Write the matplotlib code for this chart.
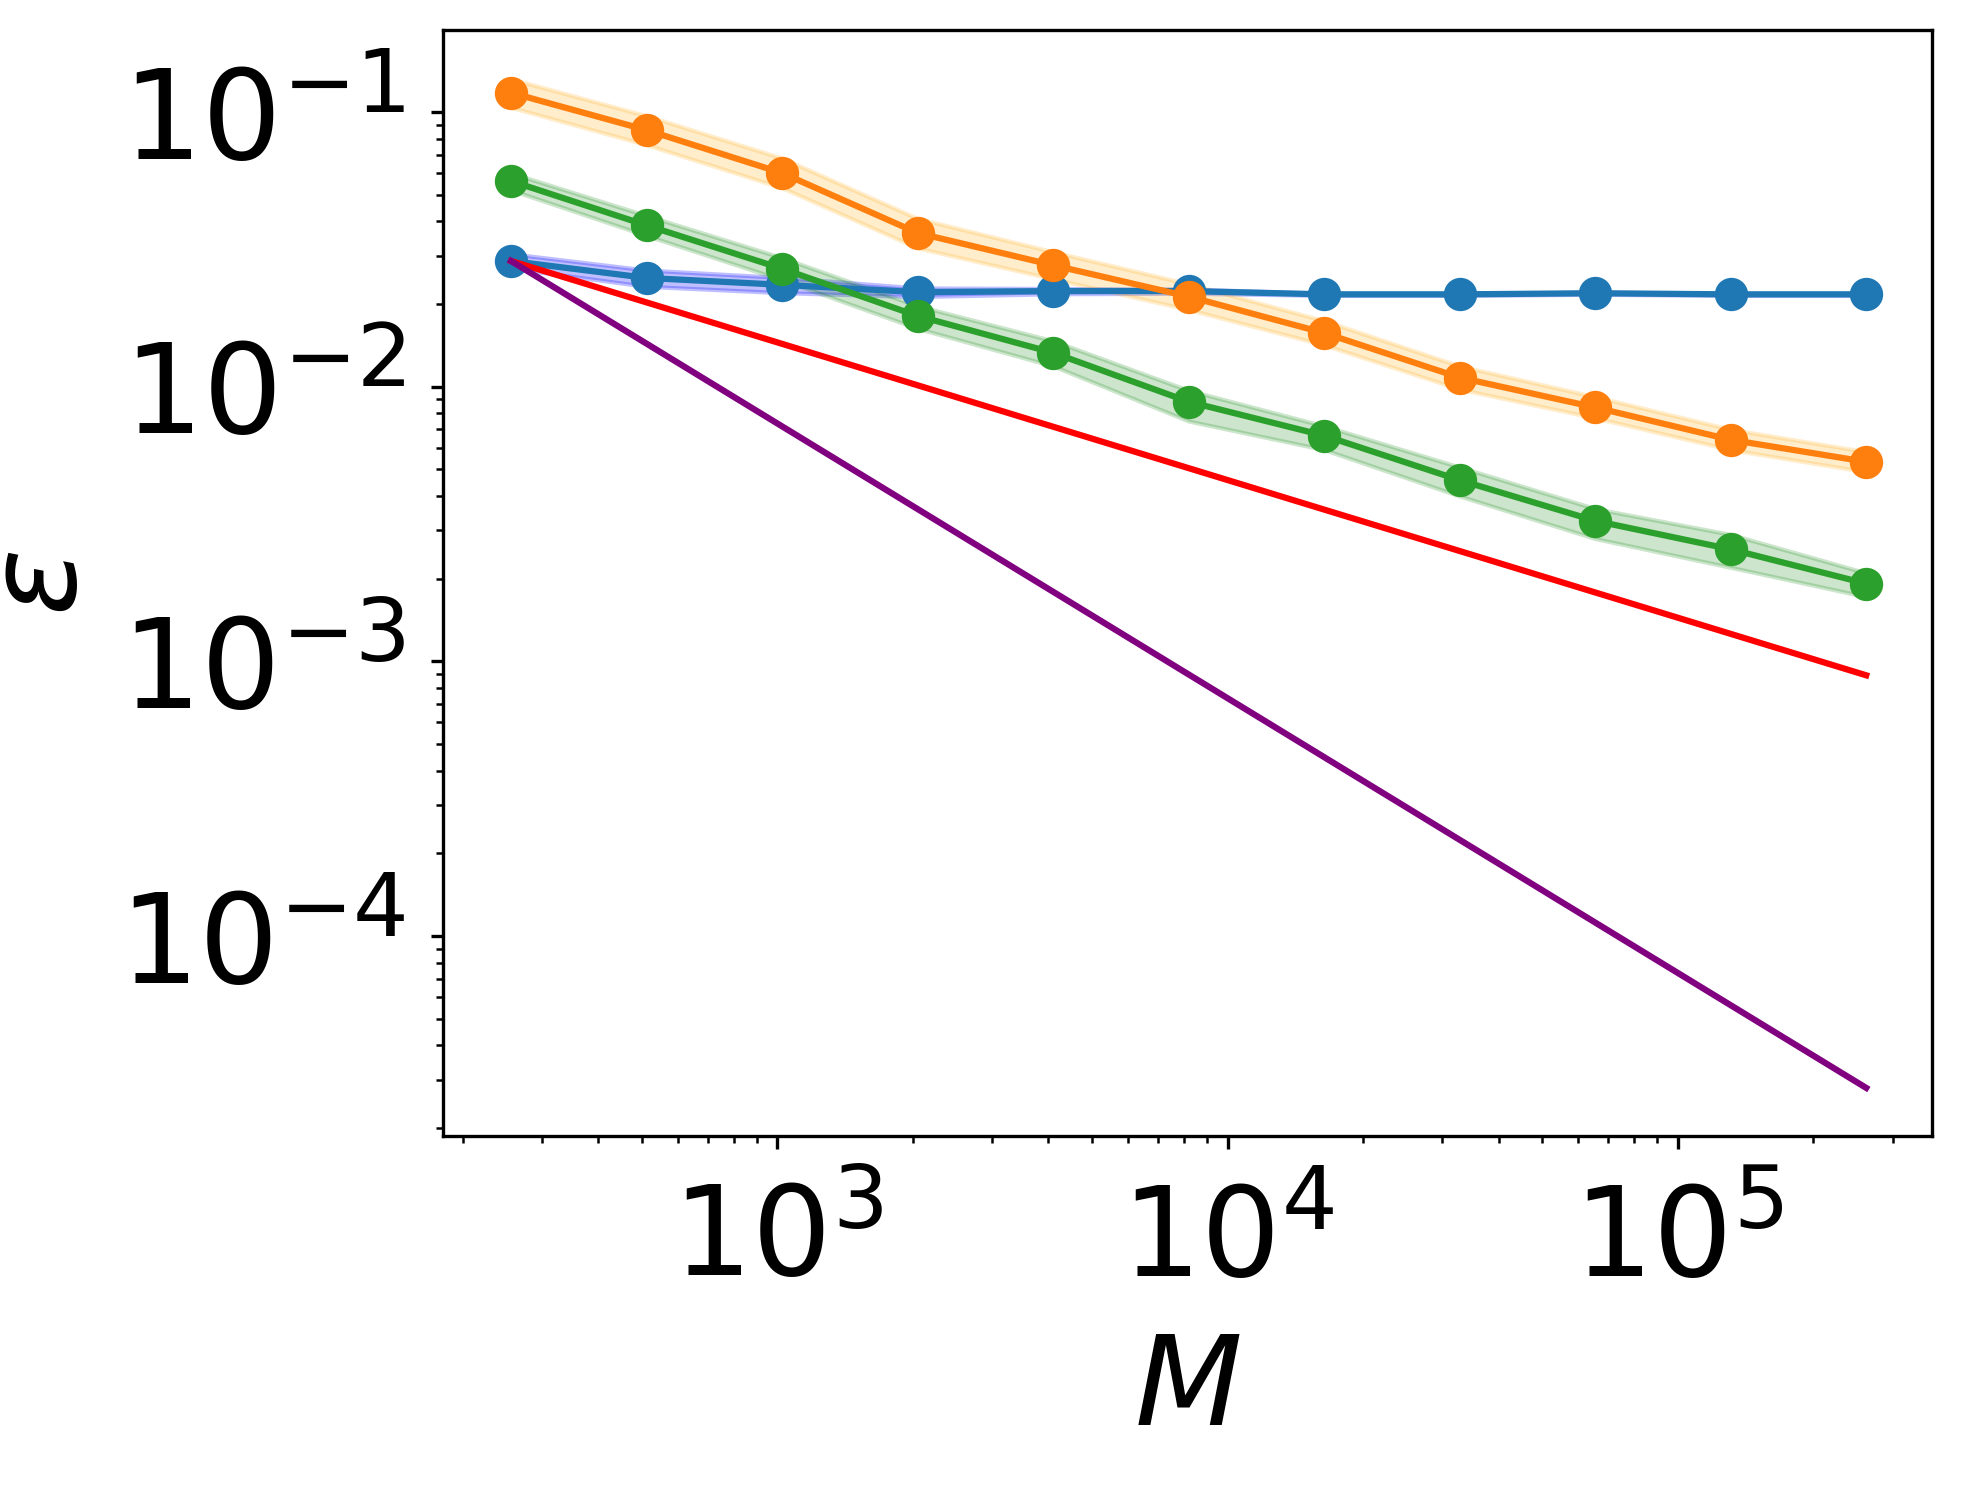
import matplotlib
matplotlib.use("Agg")
import matplotlib.pyplot as plt

M = [256, 512, 1024, 2048, 4096, 8192, 16384, 32768, 65536, 131072, 262144]

blue_vals = [0.0287, 0.0249, 0.0235, 0.0221, 0.0223, 0.0223, 0.0217, 0.0217, 0.0219, 0.0217, 0.0217]
blue_lo = [0.0270, 0.0232, 0.0220, 0.0213, 0.0218, 0.0219, 0.0215, 0.0215, 0.0217, 0.0215, 0.0215]
blue_hi = [0.0305, 0.0266, 0.0250, 0.0229, 0.0228, 0.0227, 0.0219, 0.0219, 0.0221, 0.0219, 0.0219]

orange_vals = [0.1176, 0.0860, 0.0600, 0.0363, 0.0277, 0.0213, 0.0157, 0.0108, 0.00841, 0.00641, 0.00533]
orange_lo = [0.104, 0.076, 0.053, 0.0320, 0.0247, 0.0191, 0.0142, 0.0098, 0.0077, 0.0059, 0.0049]
orange_hi = [0.132, 0.097, 0.068, 0.0410, 0.0310, 0.0237, 0.0174, 0.0119, 0.0092, 0.0070, 0.0058]

green_vals = [0.0561, 0.0387, 0.0269, 0.0181, 0.0133, 0.00882, 0.00664, 0.00457, 0.00325, 0.00256, 0.00192]
green_lo = [0.0520, 0.0355, 0.0245, 0.0163, 0.0119, 0.0075, 0.0059, 0.0040, 0.0028, 0.0022, 0.00172]
green_hi = [0.0600, 0.0420, 0.0295, 0.0197, 0.0147, 0.0097, 0.0072, 0.0051, 0.0036, 0.0029, 0.0021]

# reference slopes, endpoints only
ref_M = [256, 262144]
red_ref = [0.0287, 0.00089]
purple_ref = [0.0287, 2.8e-5]


def main() -> None:
    fig = plt.figure(figsize=(1961 / 300, 1486 / 300), dpi=300)
    ax = fig.add_axes([0.2259, 0.2355, 0.9852 - 0.2259, 0.9798 - 0.2355])

    ax.fill_between(M, blue_lo, blue_hi, color="blue", alpha=0.25, linewidth=1)
    ax.plot(M, blue_vals, "o-", color="tab:blue", lw=1.5, ms=7)

    ax.fill_between(M, orange_lo, orange_hi, color="orange", alpha=0.2, linewidth=1)
    ax.plot(M, orange_vals, "o-", color="tab:orange", lw=1.5, ms=7)

    ax.fill_between(M, green_lo, green_hi, color="green", alpha=0.2, linewidth=1)
    ax.plot(M, green_vals, "o-", color="tab:green", lw=1.5, ms=7)

    ax.plot(ref_M, red_ref, color="red", lw=1.5)
    ax.plot(ref_M, purple_ref, color="purple", lw=1.5)

    ax.set_xscale("log")
    ax.set_yscale("log")
    ax.set_xlim(180.7, 367000)
    ax.set_ylim(1.87e-5, 0.199)

    ax.tick_params(axis="both", which="major", labelsize=30, length=3, pad=6)
    ax.tick_params(axis="x", which="major", pad=8)
    ax.tick_params(axis="both", which="minor", length=1.6)
    ax.set_xlabel(r"$M$", fontsize=30, labelpad=6.5)
    ax.set_ylabel(r"$\varepsilon$", fontsize=30)

    fig.savefig("out.png", dpi=300)


if __name__ == "__main__":
    main()
